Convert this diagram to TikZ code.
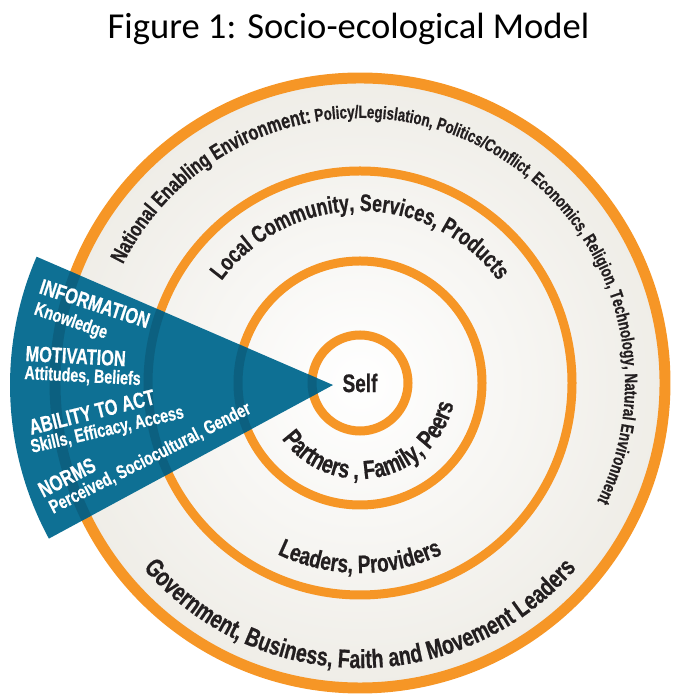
\documentclass[tikz,border=0pt]{standalone}
\usepackage{fontspec}
\usetikzlibrary{decorations.text}

\newfontfamily\titlefont{Carlito}
\newfontfamily\condfont[FakeStretch=0.75,FakeBold=0.6]{Liberation Sans}

\definecolor{ringorange}{RGB}{246,150,38}
\definecolor{wedgeblue}{RGB}{14,112,148}
\definecolor{bandgray}{RGB}{239,237,231}
\definecolor{inktext}{RGB}{35,31,32}

% fonts for the labels
\newcommand{\natbig}{\condfont\bfseries\fontsize{15.3}{15.3}\selectfont}
\newcommand{\natsmall}{\condfont\bfseries\fontsize{12.7}{12.7}\selectfont}
\newcommand{\localfont}{\condfont\bfseries\fontsize{17}{17}\selectfont}
\newcommand{\govfont}{\condfont\bfseries\fontsize{18.5}{18.5}\selectfont}
\newcommand{\leadfont}{\condfont\bfseries\fontsize{18}{18}\selectfont}
\newcommand{\partfont}{\condfont\bfseries\fontsize{18.5}{18.5}\selectfont}
\newcommand{\selffont}{\condfont\bfseries\fontsize{18}{18}\selectfont}

\begin{document}
\begin{tikzpicture}[x=0.025cm, y=0.025cm,
	ring/.style={draw=ringorange, line width=6.4pt},
	ringshadow/.style={draw=wedgeblue!70!black, opacity=0.45, line width=6.4pt},
	wedgehead/.style={text=white, font=\condfont\bfseries\fontsize{15.5}{15.5}\selectfont, anchor=base west, inner sep=0pt},
	wedgesub/.style={text=white, font=\condfont\bfseries\fontsize{13.5}{13.5}\selectfont, anchor=base west, inner sep=0pt}]

	\useasboundingbox (0,0) rectangle (676,695);

	\node[font=\titlefont\fontsize{26}{26}\selectfont, anchor=base, inner sep=0pt] (title) at (348.5,656) {Figure 1: Socio-ecological Model};

	\begin{scope}[shift={(360,312)}]
		% the four circles
		\shade[inner color=white, outer color=bandgray] (0,0) circle (305);
		\draw[ring, line width=7.8pt]	(0,0) circle (305);
		\draw[ring]		(0,0) circle (212)
						(0,0) circle (122)
						(0,0) circle (48);

		\node[font=\selffont, text=inktext] (self) at (0,0) {Self};

		% labels on the bands
		\path[decorate, decoration={text along path, text align=center, text color=inktext,
			text={|\natbig|National Enabling Environment:|\natsmall| Policy/Legislation, Politics/Conflict, Economics, Religion, Technology, Natural Environment}}]
			(160:265) arc[start angle=160, end angle=-33, radius=265];
		\path[decorate, decoration={text along path, text align=center, text color=inktext,
			text={|\localfont|Local Community, Services, Products}}]
			(170:172) arc[start angle=170, end angle=10, radius=172];
		\path[decorate, decoration={text along path, text align=center, text color=inktext,
			text={|\govfont|Government, Business, Faith and Movement Leaders}}]
			(200:285) arc[start angle=200, end angle=340, radius=285];
		\path[decorate, decoration={text along path, text align=center, text color=inktext,
			text={|\leadfont|Leaders, Providers}}]
			(225:190) arc[start angle=225, end angle=315, radius=190];
		\path[decorate, decoration={text along path, text align=center, text color=inktext,
			text={|\partfont|Partners , Family, Peers}}]
			(200:96) arc[start angle=200, end angle=363, radius=96];

		% the wedge
		\coordinate (apex) at (-27,-2);
		\fill[wedgeblue] (apex) -- ++(156.6:323) arc[start angle=156.6, end angle=208.4, radius=323] -- cycle;
		\begin{scope}
			\clip (apex) -- ++(156.6:323) arc[start angle=156.6, end angle=208.4, radius=323] -- cycle;
			\draw[ringshadow, line width=7.8pt]	(0,0) circle (305);
			\draw[ringshadow]	(0,0) circle (212)
								(0,0) circle (122)
								(0,0) circle (48);
		\end{scope}
	\end{scope}

	\node[wedgehead, rotate=-18]	(info)		at (38,402)	{INFORMATION};
	\node[wedgesub, rotate=-19]		(know)		at (33,381)	{Knowledge};
	\node[wedgehead, rotate=-3]		(motiv)		at (25,334)	{MOTIVATION};
	\node[wedgesub, rotate=-3]		(attit)		at (24,316)	{Attitudes, Beliefs};
	\node[wedgehead, rotate=14]		(ability)	at (31,260)	{ABILITY TO ACT};
	\node[wedgesub, rotate=13]		(skills)	at (32,242)	{Skills, Efficacy, Access};
	\node[wedgehead, rotate=27]		(norms)		at (43,197)	{NORMS};
	\node[wedgesub, rotate=27]		(perc)		at (53,181)	{Perceived, Sociocultural, Gender};
\end{tikzpicture}
\end{document}
